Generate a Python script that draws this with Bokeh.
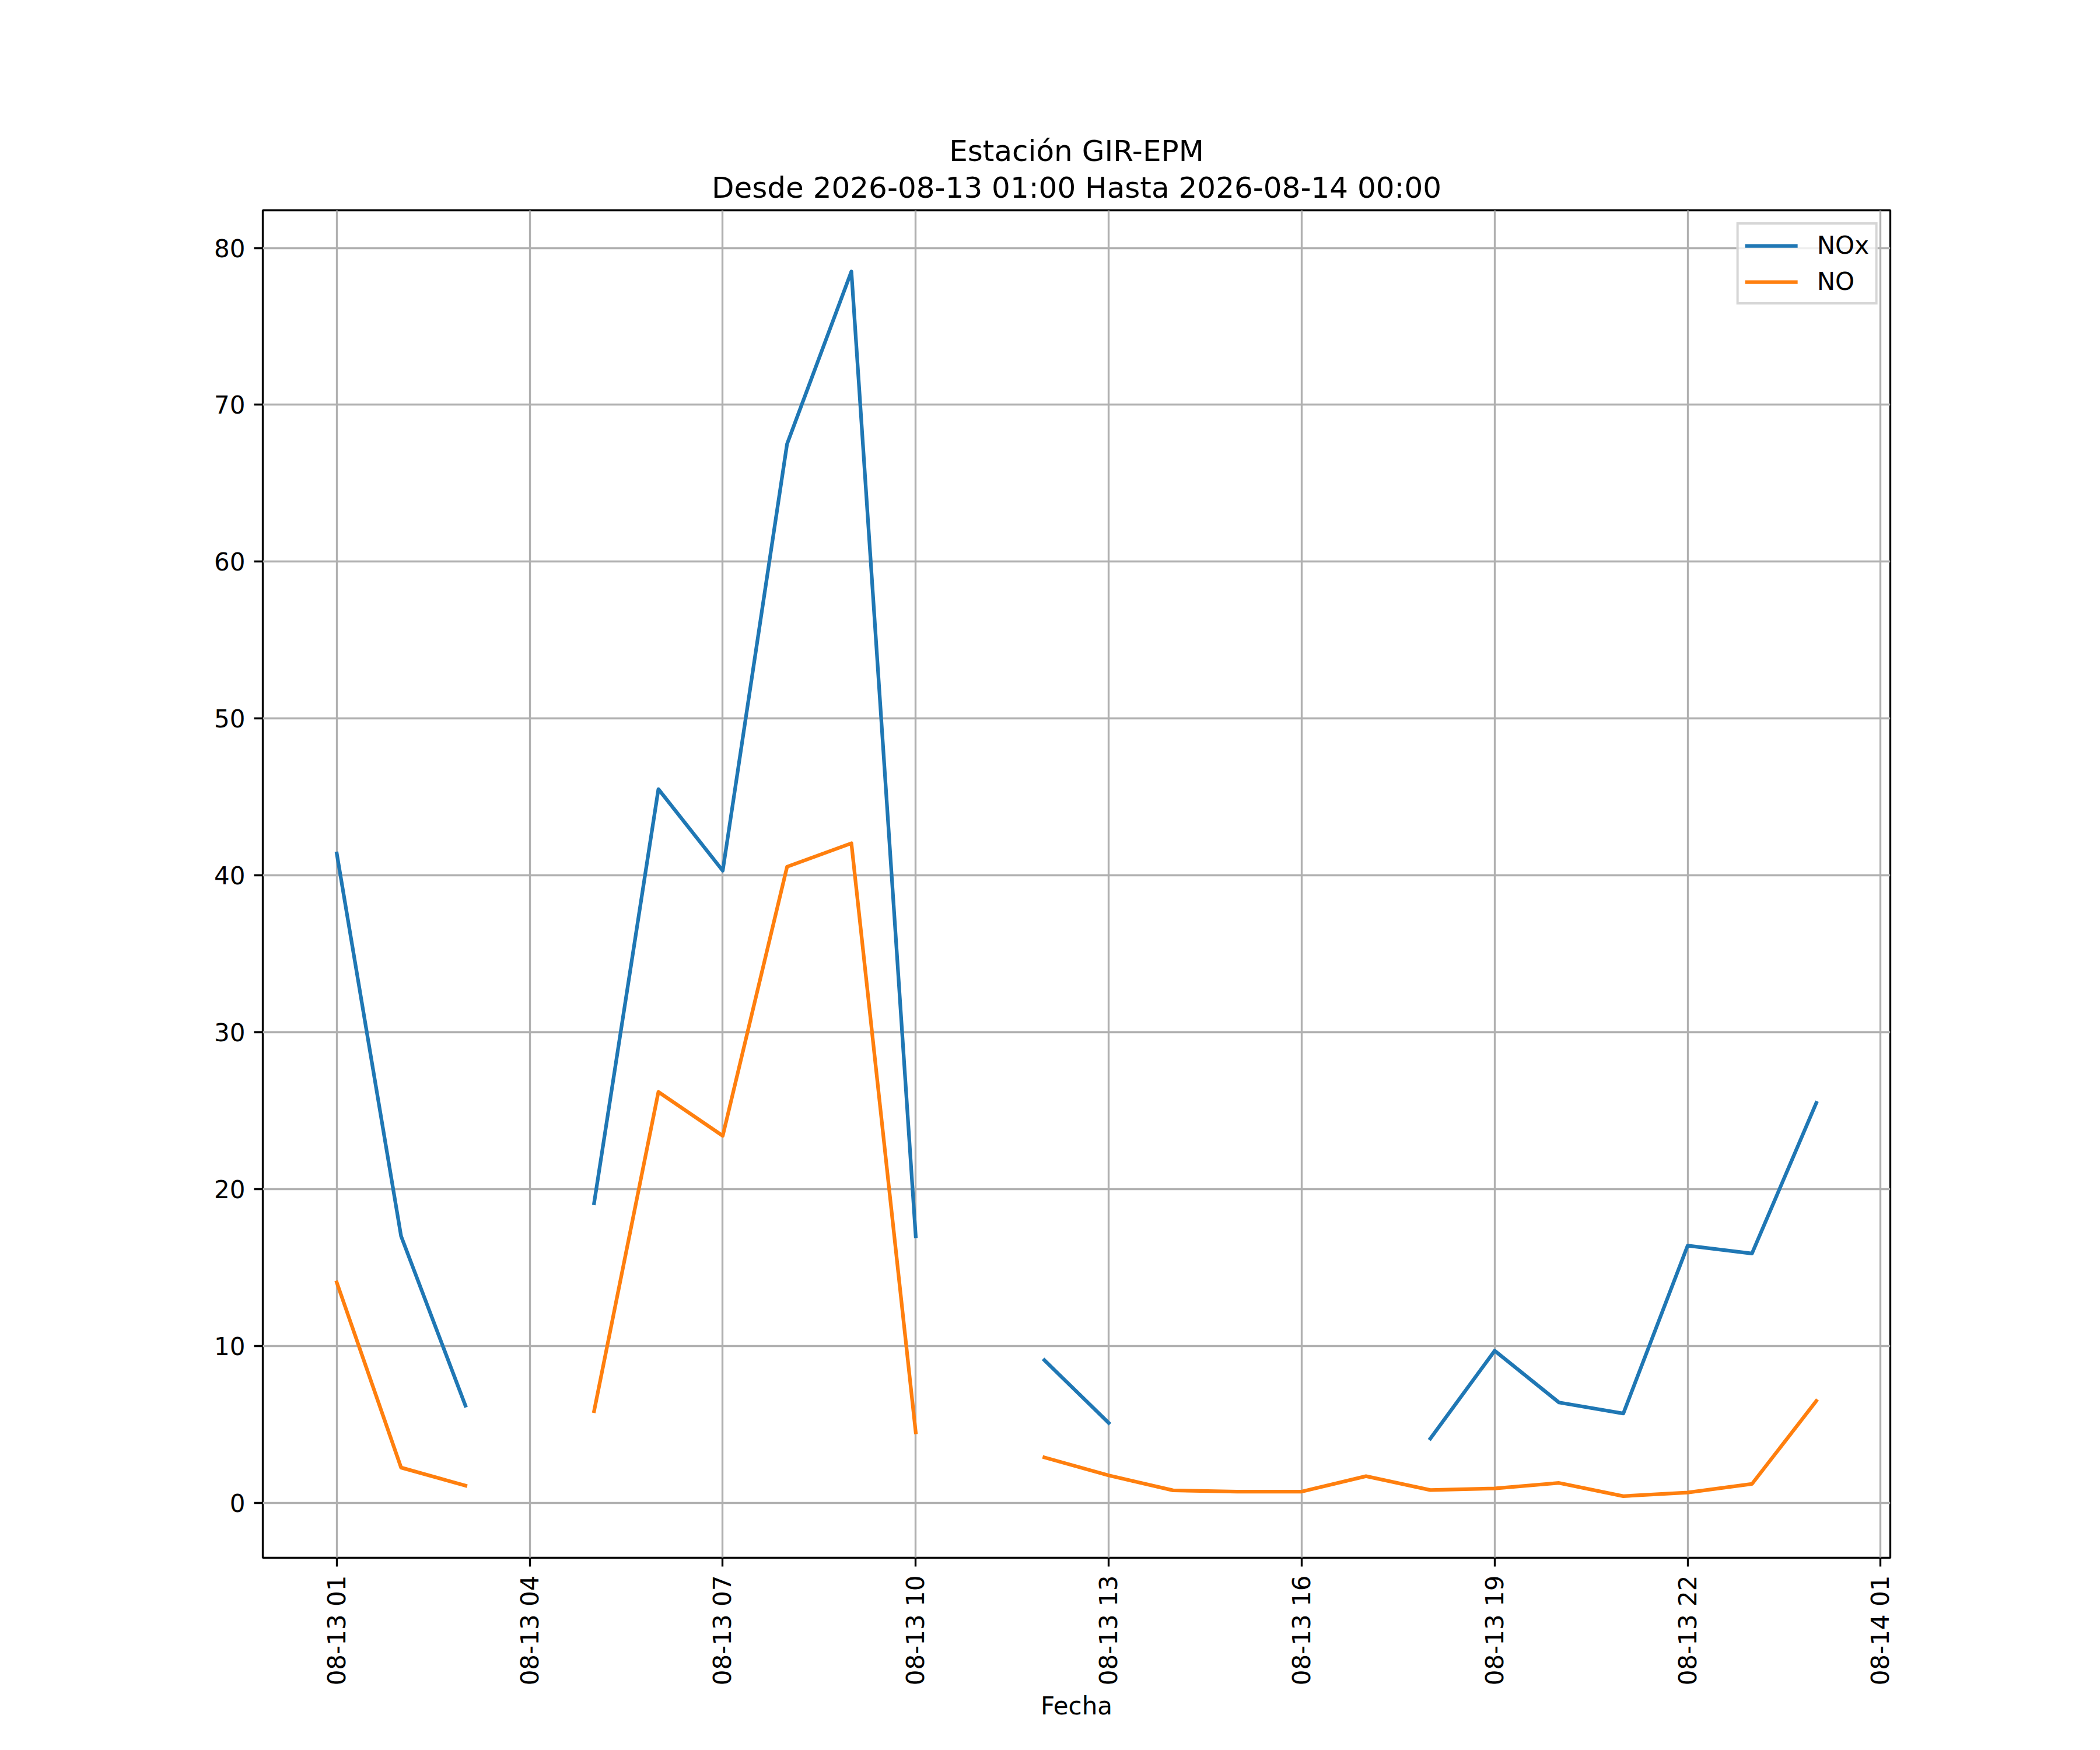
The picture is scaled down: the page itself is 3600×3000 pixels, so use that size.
import math
import numpy as np
import pandas as pd
from bokeh.plotting import figure
from bokeh.models import (Range1d, FixedTicker, DatetimeTickFormatter, Title, Legend,
                          LegendItem, ColumnDataSource)
from bokeh.embed import file_html
from bokeh.resources import INLINE

nan = float("nan")

# ---------------- data ----------------
times = [
    "2026-08-13 01:00", "2026-08-13 02:00", "2026-08-13 03:00", "2026-08-13 04:00",
    "2026-08-13 05:00", "2026-08-13 06:00", "2026-08-13 07:00", "2026-08-13 08:00",
    "2026-08-13 09:00", "2026-08-13 10:00", "2026-08-13 11:00", "2026-08-13 12:00",
    "2026-08-13 13:00", "2026-08-13 14:00", "2026-08-13 15:00", "2026-08-13 16:00",
    "2026-08-13 17:00", "2026-08-13 18:00", "2026-08-13 19:00", "2026-08-13 20:00",
    "2026-08-13 21:00", "2026-08-13 22:00", "2026-08-13 23:00", "2026-08-14 00:00",
]
nox = [41.4, 17.0, 6.2, nan, 19.1, 45.5, 40.3, 67.5, 78.5, 17.0, nan, 9.1,
       5.1, nan, nan, nan, nan, 4.1, 9.7, 6.4, 5.7, 16.4, 15.9, 25.5]
no = [14.05, 2.25, 1.1, nan, 5.85, 26.2, 23.4, 40.55, 42.05, 4.5, nan, 2.9,
      1.75, 0.8, 0.72, 0.72, 1.7, 0.82, 0.92, 1.27, 0.43, 0.66, 1.21, 6.5]
series_names = ["NOx", "NO"]
x_tick_times = [
    "2026-08-13 01:00", "2026-08-13 04:00", "2026-08-13 07:00", "2026-08-13 10:00",
    "2026-08-13 13:00", "2026-08-13 16:00", "2026-08-13 19:00", "2026-08-13 22:00",
    "2026-08-14 01:00",
]
y_ticks = [0, 10, 20, 30, 40, 50, 60, 70, 80]
title_line1 = "Estación GIR-EPM"
title_line2 = "Desde 2026-08-13 01:00 Hasta 2026-08-14 00:00"
x_label = "Fecha"

# ---------------- figure ----------------
t = pd.to_datetime(times)
t0 = t[0].value / 1e6
t1 = t[-1].value / 1e6
pad = 0.05 * (t1 - t0)

FONT = "DejaVu Sans"
W, H = 3584, 2984

p = figure(width=W, height=H, x_axis_type="datetime", output_backend="svg",
           toolbar_location=None, title=None,
           x_range=Range1d(t0 - pad, t1 + pad), y_range=Range1d(-3.5, 82.4),
           min_border_left=450, min_border_right=344,
           min_border_top=360, min_border_bottom=314)
p.background_fill_color = "white"
p.border_fill_color = "white"
p.outline_line_color = "black"
p.outline_line_width = 3.33

src = ColumnDataSource(dict(t=t, nox=np.array(nox, dtype=float), no=np.array(no, dtype=float)))
r1 = p.line("t", "nox", source=src, line_color="#1f77b4", line_width=6.25,
            line_join="round", line_cap="square")
r2 = p.line("t", "no", source=src, line_color="#ff7f0e", line_width=6.25,
            line_join="round", line_cap="square")

xt = [pd.Timestamp(s).value / 1e6 for s in x_tick_times]
p.xaxis[0].ticker = FixedTicker(ticks=xt)
fmt = "%m-%d %H"
p.xaxis[0].formatter = DatetimeTickFormatter(
    microseconds=fmt, milliseconds=fmt, seconds=fmt, minsec=fmt, minutes=fmt,
    hourmin=fmt, hours=fmt, days=fmt, months=fmt, years=fmt)
p.xaxis[0].major_label_orientation = math.pi / 2
p.yaxis[0].ticker = FixedTicker(ticks=y_ticks)

for ax in (p.xaxis[0], p.yaxis[0]):
    ax.axis_line_color = None
    ax.major_tick_line_color = "black"
    ax.major_tick_line_width = 3.33
    ax.major_tick_out = 15
    ax.major_tick_in = 0
    ax.minor_tick_line_color = None
    ax.major_label_text_font = FONT
    ax.major_label_text_font_size = "42px"
    ax.major_label_text_color = "black"
    ax.major_label_standoff = 15

p.xaxis[0].axis_label = x_label
p.xaxis[0].axis_label_text_font = FONT
p.xaxis[0].axis_label_text_font_size = "42px"
p.xaxis[0].axis_label_text_font_style = "normal"
p.xaxis[0].axis_label_text_color = "black"
p.xaxis[0].axis_label_standoff = 8

for g in (p.xgrid[0], p.ygrid[0]):
    g.grid_line_color = "#b0b0b0"
    g.grid_line_width = 3.33

legend = Legend(items=[LegendItem(label=series_names[0], renderers=[r1]),
                       LegendItem(label=series_names[1], renderers=[r2])],
                location="top_right", margin=21, padding=11, spacing=13,
                glyph_width=90, glyph_height=42, label_height=42, label_standoff=33,
                label_text_font=FONT, label_text_font_size="42px", label_text_color="black",
                border_line_color="#cccccc", border_line_width=4.17, border_line_alpha=0.8,
                background_fill_color="white", background_fill_alpha=0.8)
p.add_layout(legend)

tt2 = Title(text=title_line2, align="center", text_font=FONT, text_font_size="50px",
            text_font_style="normal", text_color="black", standoff=20)
tt1 = Title(text=title_line1, align="center", text_font=FONT, text_font_size="50px",
            text_font_style="normal", text_color="black", standoff=-14)
p.add_layout(tt2, "above")
p.add_layout(tt1, "above")

open("out.html", "w").write(file_html(p, INLINE))
